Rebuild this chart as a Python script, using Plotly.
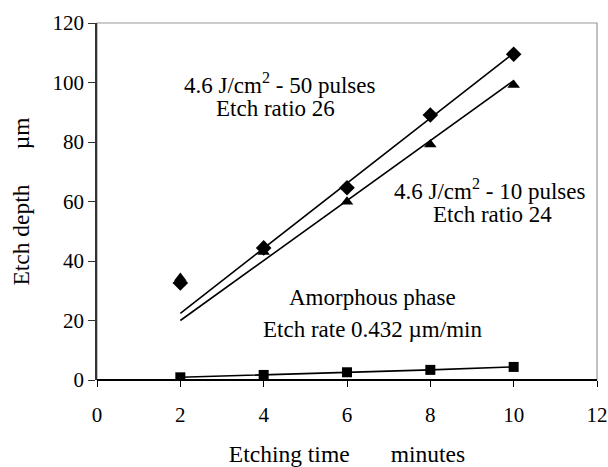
import plotly.graph_objects as go

time_min = [2, 4, 6, 8, 10]
depth_50p = [32.6, 44.4, 64.6, 89.1, 109.5]
depth_10p = [34.3, 43.0, 59.9, 79.2, 99.2]
depth_amorph = [0.9, 1.7, 2.6, 3.4, 4.4]

fit_x = [2, 10]
fit_50p = [22.4, 109.9]
fit_10p = [20.0, 100.6]

x_ticks = [0, 2, 4, 6, 8, 10, 12]
y_ticks = [0, 20, 40, 60, 80, 100, 120]

FONT = "Liberation Serif"
FS = 21
FS_ANN = 23
FS_TITLE = 23.5

fig = go.Figure()
fig.add_trace(go.Scatter(x=fit_x, y=fit_50p, mode="lines",
                         line=dict(color="black", width=1.6), showlegend=False))
fig.add_trace(go.Scatter(x=fit_x, y=fit_10p, mode="lines",
                         line=dict(color="black", width=1.6), showlegend=False))
fig.add_trace(go.Scatter(x=time_min, y=depth_10p, mode="markers",
                         marker=dict(symbol="triangle-up", size=11, color="black"),
                         showlegend=False))
fig.add_trace(go.Scatter(x=time_min, y=depth_50p, mode="markers",
                         marker=dict(symbol="diamond", size=12, color="black"),
                         showlegend=False))
fig.add_trace(go.Scatter(x=time_min, y=depth_amorph, mode="lines+markers",
                         line=dict(color="black", width=1.6),
                         marker=dict(symbol="square", size=10, color="black"),
                         showlegend=False))

# gray frame (top/right)
fig.add_shape(type="rect", xref="paper", yref="paper", x0=0, y0=0, x1=1, y1=1,
              line=dict(color="#999999", width=1.2), layer="below")

ann = [
    ("4.6 J/cm<sup>2</sup> - 50 pulses", 4.39, 99.7),
    ("Etch ratio 26", 4.29, 91.2),
    ("4.6 J/cm<sup>2</sup> - 10 pulses", 9.43, 64.2),
    ("Etch ratio 24", 9.48, 55.5),
    ("Amorphous phase", 6.62, 27.6),
    ("Etch rate 0.432 µm/min", 6.60, 17.1),
]
for t, x, y in ann:
    fig.add_annotation(x=x, y=y, text=t, showarrow=False,
                       font=dict(family=FONT, size=FS_ANN, color="black"),
                       xanchor="center", yanchor="middle")

fig.update_layout(
    width=608, height=467,
    margin=dict(l=97, r=11, t=23, b=87),
    paper_bgcolor="white", plot_bgcolor="white",
    font=dict(family=FONT, size=FS, color="black"),
)
fig.update_xaxes(range=[0, 12], tickvals=x_ticks, showgrid=False, zeroline=False,
                 showline=False, ticks="outside", ticklen=6, tickcolor="black",
                 ticklabelstandoff=10, tickfont=dict(family=FONT, size=FS, color="black"),
                 automargin=False,
                 title=dict(text="Etching time       minutes",
                            font=dict(family=FONT, size=FS_TITLE, color="black"),
                            standoff=22))
fig.update_yaxes(range=[0, 120], tickvals=y_ticks, showgrid=False, zeroline=True,
                 zerolinecolor="black", zerolinewidth=1.5,
                 showline=True, linecolor="#333333", linewidth=1.5,
                 ticks="outside", ticklen=7, tickcolor="#333333",
                 tickfont=dict(family=FONT, size=FS, color="black"), automargin=False,
                 title=dict(text="Etch depth      µm",
                            font=dict(family=FONT, size=FS_TITLE, color="black"),
                            standoff=16))

fig.write_html("out.html")
